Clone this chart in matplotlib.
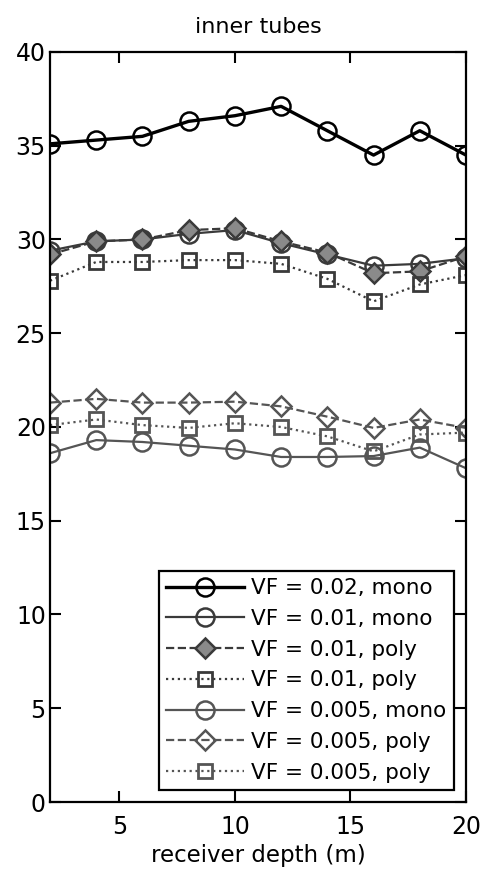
import numpy as np
import matplotlib.pyplot as plt

# receiver depth (m)
depth = [2, 4, 6, 8, 10, 12, 14, 16, 18, 20]

# values
vf002_mono = [35.1, 35.3, 35.5, 36.3, 36.6, 37.1, 35.8, 34.5, 35.8, 34.5]
vf001_mono = [29.4, 29.9, 30.0, 30.3, 30.5, 29.8, 29.2, 28.6, 28.7, 29.0]
vf001_poly_d = [29.2, 29.9, 30.0, 30.5, 30.6, 29.9, 29.3, 28.2, 28.3, 29.1]
vf001_poly_s = [27.8, 28.8, 28.8, 28.9, 28.9, 28.7, 27.9, 26.7, 27.6, 28.1]
vf0005_mono = [18.6, 19.3, 19.2, 19.0, 18.8, 18.4, 18.4, 18.45, 18.9, 17.8]
vf0005_poly_d = [21.3, 21.5, 21.3, 21.3, 21.35, 21.1, 20.55, 19.95, 20.4, 19.95]
vf0005_poly_s = [20.1, 20.4, 20.1, 19.95, 20.2, 20.0, 19.5, 18.7, 19.6, 19.7]

labels = ['VF = 0.02, mono', 'VF = 0.01, mono', 'VF = 0.01, poly', 'VF = 0.01, poly',
          'VF = 0.005, mono', 'VF = 0.005, poly', 'VF = 0.005, poly']

plt.rcParams['font.family'] = ['DejaVu Sans']

fig = plt.figure(figsize=(4.83, 8.69), dpi=100)
ax = fig.add_axes([0.1035, 0.0771, 0.8613, 0.8631])

c1 = '#3a3a3a'
c2 = '#555555'
ms = 13

ax.plot(depth, vf002_mono, '-', color='black', lw=2.4, marker='o', ms=ms,
        mfc='none', mec='black', mew=1.8, label=labels[0])
ax.plot(depth, vf001_mono, '-', color=c1, lw=1.6, marker='o', ms=ms,
        mfc='none', mec=c1, mew=1.8, label=labels[1])
ax.plot(depth, vf001_poly_d, '--', color=c1, lw=1.6, marker='D', ms=ms - 3,
        mfc='#8a8a8a', mec=c1, mew=1.8, label=labels[2])
ax.plot(depth, vf001_poly_s, ':', color=c1, lw=1.6, marker='s', ms=ms - 3,
        mfc='none', mec=c1, mew=2.0, label=labels[3])
ax.plot(depth, vf0005_mono, '-', color=c2, lw=1.6, marker='o', ms=ms,
        mfc='none', mec=c2, mew=1.8, label=labels[4])
ax.plot(depth, vf0005_poly_d, '--', color=c2, lw=1.6, marker='D', ms=ms - 3,
        mfc='none', mec=c2, mew=1.8, label=labels[5])
ax.plot(depth, vf0005_poly_s, ':', color=c2, lw=1.6, marker='s', ms=ms - 3,
        mfc='none', mec=c2, mew=2.0, label=labels[6])

ax.set_xlim(2, 20)
ax.set_ylim(0, 40)
ax.set_xticks([5, 10, 15, 20])
ax.set_yticks(np.arange(0, 41, 5))
ax.tick_params(direction='in', length=8, width=1.5, top=True, right=True, labelsize=17)
ax.tick_params(axis='x', pad=9)
ax.tick_params(axis='y', pad=3)
for s in ax.spines.values():
    s.set_linewidth(1.6)

ax.set_title('inner tubes', fontsize=16, pad=14)
ax.set_xlabel('receiver depth (m)', fontsize=16.5, labelpad=4)

leg = ax.legend(loc='lower right', fontsize=15.5, frameon=True, fancybox=False,
                edgecolor='black', framealpha=1, handlelength=3.6,
                borderaxespad=0.55, labelspacing=0.5, handletextpad=0.35,
                borderpad=0.35)
leg.get_frame().set_linewidth(1.6)

fig.savefig('out.png', dpi=100)
